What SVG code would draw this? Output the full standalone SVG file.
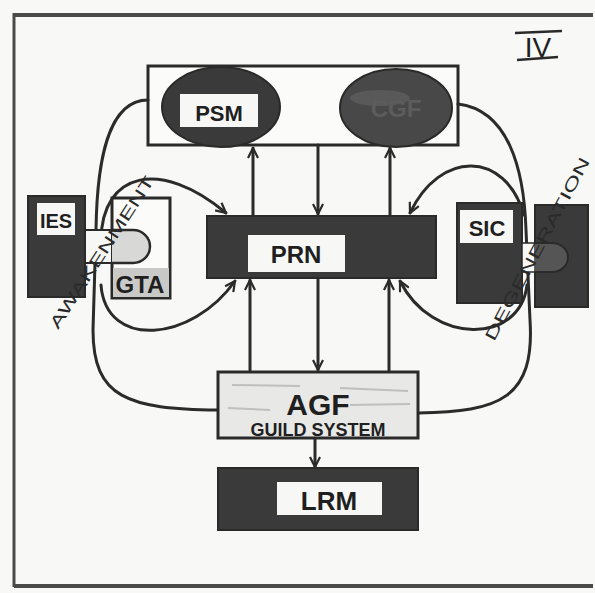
<svg xmlns="http://www.w3.org/2000/svg" width="595" height="593" viewBox="0 0 595 593">
<defs>
<marker id="ah" viewBox="0 0 12 12" refX="11" refY="6" markerWidth="12" markerHeight="12" markerUnits="userSpaceOnUse" orient="auto">
<path d="M1,1 L11,6 L1,11" fill="none" stroke="#2b2b2b" stroke-width="2.2"/>
</marker>
<style>
.dark{fill:#3a3a3a;stroke:#2a2a2a;stroke-width:2}
.lbl{fill:#f7f7f5;stroke:none}
.t{font-family:"Liberation Sans","DejaVu Sans",sans-serif;fill:#1f1f1f;text-anchor:middle;font-weight:bold}
.c{fill:none;stroke:#2b2b2b;stroke-width:3;stroke-linecap:round}
.box{fill:#fbfbf9;stroke:#2a2a2a;stroke-width:3}
.hand{font-family:"Liberation Sans","DejaVu Sans",sans-serif;fill:#2a2a2a;font-size:17}
</style>
</defs>
<rect width="595" height="593" fill="#f8f8f6"/>
<g id="frame" stroke="#4a4a4a" fill="none">
<line x1="14" y1="15" x2="593" y2="15" stroke-width="4"/>
<line x1="14" y1="13" x2="14" y2="587" stroke-width="3"/>
<line x1="14" y1="586" x2="593" y2="586" stroke-width="4"/>
</g>
<g id="numeral">
<line x1="515" y1="33" x2="562" y2="31" stroke="#2a2a2a" stroke-width="2.5"/>
<line x1="517" y1="60" x2="558" y2="57" stroke="#2a2a2a" stroke-width="2.5"/>
<text x="538" y="57" class="t" font-size="28" font-weight="normal" style="font-weight:normal">IV</text>
</g>
<g id="topbox">
<rect x="148" y="66" width="310" height="79" class="box" stroke-width="2.5"/>
</g>
<g id="connectors">
<path class="c" d="M253,215 L253,148" marker-end="url(#ah)"/>
<path class="c" d="M390,215 L390,148" marker-end="url(#ah)"/>
<path class="c" d="M318,145 L318,214" marker-end="url(#ah)"/>
<path class="c" d="M318,279 L318,370" marker-end="url(#ah)"/>
<path class="c" d="M250,372 L250,280" marker-end="url(#ah)"/>
<path class="c" d="M389,372 L389,280" marker-end="url(#ah)"/>
<path class="c" d="M315,438 L315,467" marker-end="url(#ah)"/>
<path class="c" d="M148,100 C108,100 97,160 96,230 L93,330 C93,398 128,409 218,410"/>
<path class="c" d="M101,240 C102,172 160,158 226,213" marker-end="url(#ah)"/>
<path class="c" d="M101,285 C106,350 192,342 235,281" marker-end="url(#ah)"/>
<path class="c" d="M458,104 C508,110 524,168 526,230 L530,320 C535,398 500,412 418,413"/>
<path class="c" d="M524,215 C505,150 440,150 410,213" marker-end="url(#ah)"/>
<path class="c" d="M527,285 C520,345 432,345 400,281" marker-end="url(#ah)"/>
</g>
<g id="PSM">
<ellipse cx="221" cy="107" rx="59" ry="40" class="dark"/>
<rect x="180" y="94" width="78" height="33" class="lbl"/>
<text x="219" y="121" class="t" font-size="22">PSM</text>
</g>
<g id="CGF">
<ellipse cx="396" cy="108" rx="56" ry="39" fill="#484848" stroke="#2a2a2a" stroke-width="2"/>
<ellipse cx="380" cy="98" rx="30" ry="8" fill="#6a6a6a" opacity="0.5"/>
<text x="396" y="117" class="t" font-size="24" style="fill:#5c5c5c">CGF</text>
</g>
<g id="PRN">
<rect x="207" y="216" width="229" height="62" class="dark"/>
<rect x="248" y="235" width="97" height="37" class="lbl"/>
<text x="296" y="263" class="t" font-size="24">PRN</text>
</g>
<g id="IES">
<rect x="28" y="196" width="57" height="101" class="dark"/>
<rect x="37" y="203" width="38" height="32" class="lbl"/>
<text x="56" y="228" class="t" font-size="20">IES</text>
</g>
<g id="GTA">
<rect x="112" y="198" width="58" height="100" class="box" stroke-width="2.5"/>
<rect x="85" y="230" width="27" height="33" fill="#f7f7f5" stroke="#2a2a2a" stroke-width="2"/>
<path d="M112,230 L133,230 A17,16.5 0 0 1 133,263 L112,263" fill="#d8d8d6" stroke="#2a2a2a" stroke-width="2.5"/>
<rect x="113" y="268" width="56" height="29" fill="#c9c9c7"/>
<text x="140" y="293" class="t" font-size="24">GTA</text>
</g>
<g id="SIC">
<rect x="457" y="203" width="65" height="100" class="dark"/>
<rect x="460" y="210" width="53" height="33" class="lbl"/>
<text x="487" y="236" class="t" font-size="22">SIC</text>
<rect x="535" y="205" width="53" height="102" class="dark"/>
<rect x="522" y="243" width="13" height="29" fill="#f7f7f5" stroke="#2a2a2a" stroke-width="1.5"/>
<path d="M535,243 L552,243 A16,14.5 0 0 1 552,272 L535,272" fill="#555" stroke="#2a2a2a" stroke-width="2"/>
</g>
<g id="AGF">
<rect x="218" y="372" width="200" height="66" fill="#e8e8e6" stroke="#2a2a2a" stroke-width="3"/>
<g stroke="#b5b5b3" stroke-width="2" opacity="0.8">
<line x1="232" y1="385" x2="300" y2="386"/>
<line x1="340" y1="388" x2="408" y2="391"/>
<line x1="228" y1="408" x2="270" y2="410"/>
<line x1="350" y1="405" x2="410" y2="404"/>
</g>
<text x="318" y="415" class="t" font-size="30">AGF</text>
<text x="318" y="436" class="t" font-size="18">GUILD SYSTEM</text>
</g>
<g id="LRM">
<rect x="218" y="468" width="200" height="62" class="dark"/>
<rect x="277" y="482" width="105" height="33" class="lbl"/>
<text x="329" y="510" class="t" font-size="26">LRM</text>
</g>
<g id="labels">
<text class="hand" transform="translate(58,330) rotate(-57)" textLength="178" lengthAdjust="spacingAndGlyphs">AWAKENMENT</text>
<text class="hand" transform="translate(494,342) rotate(-62)" textLength="205" lengthAdjust="spacingAndGlyphs">DEGENERATION</text>
</g>
</svg>
